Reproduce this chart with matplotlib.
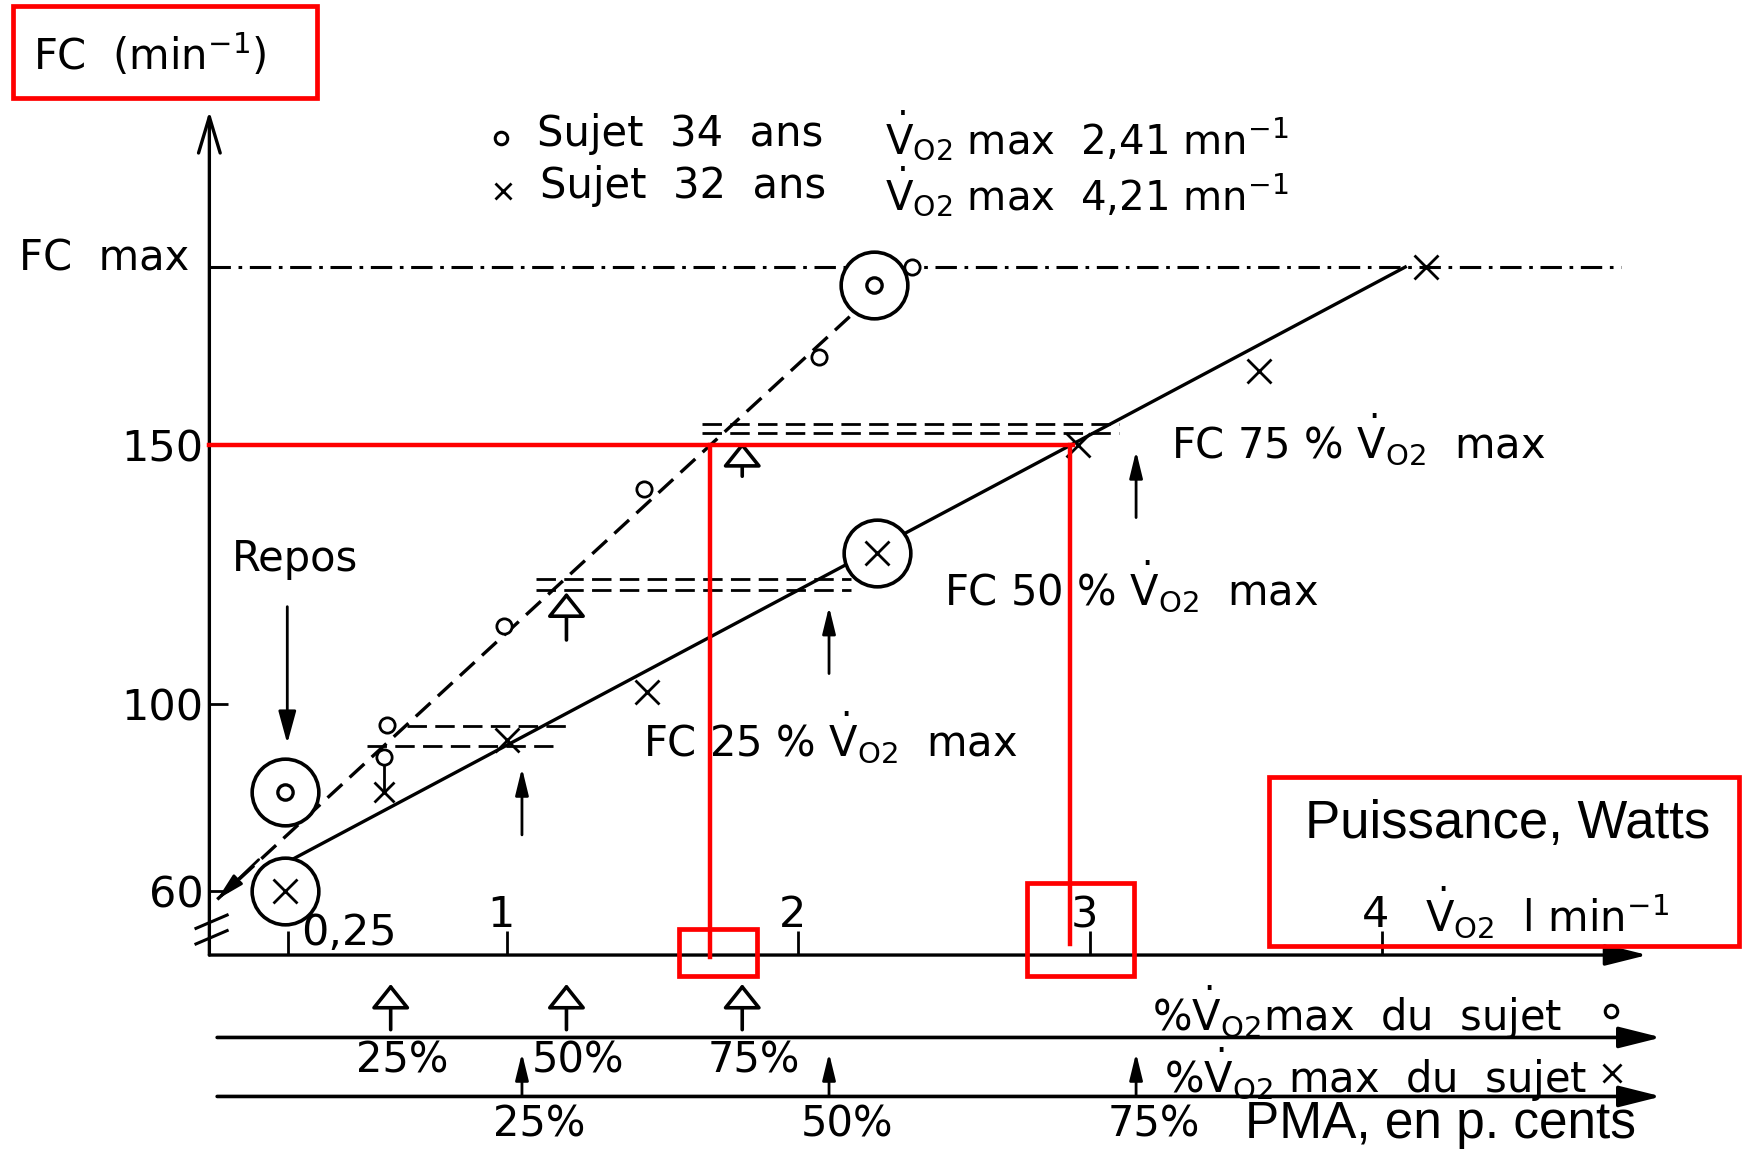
import numpy as np
import matplotlib.pyplot as plt
from matplotlib.patches import Rectangle

# --- valeurs ---
vo2max_o = 2.41   # sujet 34 ans
vo2max_x = 4.21   # sujet 32 ans
fc_max = 184.5

o_vo2 = [0.59, 0.99, 1.47, 2.07, 2.39]
o_fc = [95.5, 115.0, 141.5, 167.0, 184.5]
x_vo2 = [1.00, 1.48, 2.96, 3.58, 4.15]
x_fc = [92.1, 102.2, 150.0, 164.4, 184.5]

# points isolés : repos, max estimé (cerclés), paire o/x à 0,58
rest_vo2 = 0.24
rest_fc_o = 81.0
rest_fc_x = 60.0
circ_o = (2.26, 181.0)
circ_x = (2.27, 129.1)
pair_vo2 = 0.58
pair_fc = [88.6, 81.0]

# droites d'ajustement
line_o_vo2 = [0.008, 2.22]
line_o_fc = [58.1, 177.2]
line_x_vo2 = [0.14, 4.08]
line_x_fc = [62.5, 184.5]

# niveaux FC 25 / 50 / 75 % (double trait tireté)
pct = [0.25, 0.50, 0.75]
pct_labels = ['25%', '50%', '75%']
lvl_fc = [(95.2, 91.0), (124.1, 121.9), (154.1, 152.4)]
lvl_x0 = [(0.66, 0.52), (1.10, 1.10), (1.67, 1.67)]
lvl_x1 = [(1.22, 1.16), (2.18, 2.18), (3.10, 3.10)]
lvl_text = ['FC 25 % ', 'FC 50 % ', 'FC 75 % ']

# flèches dans le graphe (queue, pointe) en FC
arr_x_fc = [(71.9, 86.2), (105.8, 118.75), (136.0, 148.9)]
arr_o_fc = [(112.3, 121.5), (144.0, 150.6)]   # 50 % et 75 % du sujet o

x_ticks = [0.25, 1, 2, 3, 4]
x_ticklabels = ['0,25', '1', '2', '3', '4']
y_ticks = [60, 100, 150]

# --- mise en page (repère de l'image 1568 x 1034) ---
W, H = 1568, 1034
px_per_l = 262.0
px_per_bpm = 4.64
k = 4.2 / 4.64           # échelle comprimée sous 100 (axe interrompu)
y_axis = 46.2
x_axis = -0.019


def fwd(y):
    y = np.asarray(y, dtype=float)
    return np.where(y >= 100, y, 100 - (100 - y) * k)


def inv(t):
    t = np.asarray(t, dtype=float)
    return np.where(t >= 100, t, 100 - (100 - t) / k)


def fr(px, py):
    return (px / W, 1 - py / H)


def fy(py):
    return 1 - py / H


plt.rcParams['font.family'] = ['DejaVu Sans']
plt.rcParams['mathtext.fontset'] = 'dejavusans'

VO2 = r'$\dot{\mathrm{V}}_{\mathrm{O}2}$'
fs = 30
arial = ['Liberation Sans', 'DejaVu Sans']

solid_head = dict(arrowstyle='-|>,head_length=0.9,head_width=0.22',
                  lw=2, color='black', shrinkA=0, shrinkB=0, mutation_scale=18)
hollow_head = dict(arrowstyle='-|>,head_length=0.5,head_width=0.4',
                   lw=2.6, fc='white', ec='black', shrinkA=0, shrinkB=0,
                   mutation_scale=30)

fig = plt.figure(figsize=(17.46, 11.51), dpi=100)
ax = fig.add_axes([0, 0, 1, 1])
ax.set_yscale('function', functions=(fwd, inv))
ax.set_xlim(-193 / px_per_l, (W - 193) / px_per_l)
ax.set_ylim(float(inv(150 - (H - 400) / px_per_bpm)), 150 + 400 / px_per_bpm)

for s in ax.spines.values():
    s.set_visible(False)
ax.spines['left'].set_position(('data', x_axis))
ax.spines['bottom'].set_position(('data', y_axis))
ax.set_xticks(x_ticks)
ax.set_xticklabels([])
ax.set_yticks(y_ticks)
ax.set_yticklabels([str(v) for v in y_ticks], fontsize=fs + 1)
ax.tick_params(axis='x', direction='in', length=17, width=2)
ax.tick_params(axis='y', direction='in', length=14, width=2, pad=4)

# axes avec flèches
ax.annotate('', xy=(4.91, y_axis), xytext=(x_axis, y_axis),
            arrowprops=dict(arrowstyle='-|>,head_length=1.0,head_width=0.25',
                            lw=2.4, color='black', shrinkA=0, shrinkB=0,
                            mutation_scale=26))
ax.annotate('', xy=(x_axis, 214.7), xytext=(x_axis, y_axis),
            arrowprops=dict(arrowstyle='->,head_length=1.0,head_width=0.3',
                            lw=2.4, color='black', shrinkA=0, shrinkB=0,
                            mutation_scale=26))
# interruption de l'axe
for py in (828, 842):
    ax.plot([176 / W, 204 / W], [fy(py + 6), fy(py - 6)], color='black',
            lw=2.2, transform=ax.transAxes)

# FC max
ax.plot([x_axis, 4.82], [fc_max, fc_max], color='black', lw=2.2,
        dashes=(7, 2.5, 1.2, 2.5))
ax.text(*fr(170, 232), 'FC  max', fontsize=fs, ha='right', va='center',
        transform=ax.transAxes)

# droites
ax.plot(line_o_vo2, line_o_fc, color='black', lw=2.4, dashes=(6, 3))
ax.plot(line_x_vo2, line_x_fc, color='black', lw=2.4)
ax.annotate('', xy=(line_o_vo2[0], line_o_fc[0]), xytext=(0.15, 66.6),
            arrowprops=solid_head)

# niveaux FC 25/50/75 %
for i in range(3):
    for j in range(2):
        ax.plot([lvl_x0[i][j], lvl_x1[i][j]], [lvl_fc[i][j], lvl_fc[i][j]],
                color='black', lw=2, dashes=(7, 3))

# points
ax.plot(o_vo2, o_fc, 'o', ms=11, mfc='white', mec='black', mew=2, ls='none', zorder=5)
ax.plot(x_vo2, x_fc, 'x', ms=17, mec='black', mew=2, ls='none', zorder=5)
ax.plot([pair_vo2, pair_vo2], pair_fc, color='black', lw=2, zorder=4)
ax.plot([pair_vo2], [pair_fc[0]], 'o', ms=11, mfc='white', mec='black', mew=2, zorder=5)
ax.plot([pair_vo2], [pair_fc[1]], 'x', ms=15, mec='black', mew=2, zorder=5)

# points cerclés
for (cx, cy), inner in [((rest_vo2, rest_fc_o), 'o'), ((rest_vo2, rest_fc_x), 'x'),
                        (circ_o, 'o'), (circ_x, 'x')]:
    ax.plot([cx], [cy], 'o', ms=48, mfc='white', mec='black', mew=2.6, zorder=6)
    if inner == 'o':
        ax.plot([cx], [cy], 'o', ms=11, mfc='white', mec='black', mew=2.4, zorder=7)
    else:
        ax.plot([cx], [cy], 'x', ms=17, mec='black', mew=2, zorder=7)

# flèches du sujet x (pleines) et du sujet o (creuses)
for p, (t0, t1) in zip(pct, arr_x_fc):
    ax.annotate('', xy=(vo2max_x * p, t1), xytext=(vo2max_x * p, t0),
                arrowprops=solid_head)
for p, (t0, t1) in zip(pct[1:], arr_o_fc):
    ax.annotate('', xy=(vo2max_o * p, t1), xytext=(vo2max_o * p, t0),
                arrowprops=hollow_head)

# repos
ax.text(*fr(208, 502), 'Repos', fontsize=fs, ha='left', va='center',
        transform=ax.transAxes)
ax.annotate('', xy=fr(258, 668), xytext=fr(258, 545), xycoords='axes fraction',
            textcoords='axes fraction',
            arrowprops=dict(solid_head, arrowstyle='-|>,head_length=1.1,head_width=0.3'))

# étiquettes des niveaux
for txt, (px, py) in zip(lvl_text, [(577, 662), (848, 527), (1052, 395)]):
    ax.text(*fr(px, py), txt + VO2 + '  max', fontsize=fs, ha='left',
            va='center', transform=ax.transAxes)

# légende en haut
ax.plot(*fr(450, 124), 'o', ms=9, mfc='white', mec='black', mew=2.2,
        transform=ax.transAxes)
ax.plot(*fr(452, 172), 'x', ms=12, mec='black', mew=2, transform=ax.transAxes)
ax.text(*fr(482, 120), 'Sujet  34  ans', fontsize=fs, ha='left', va='center',
        transform=ax.transAxes)
ax.text(*fr(485, 167), 'Sujet  32  ans', fontsize=fs, ha='left', va='center',
        transform=ax.transAxes)
ax.text(*fr(795, 122), VO2 + r' max  2,41 mn$^{-1}$', fontsize=fs - 1, ha='left',
        va='center', transform=ax.transAxes)
ax.text(*fr(795, 172), VO2 + r' max  4,21 mn$^{-1}$', fontsize=fs - 1, ha='left',
        va='center', transform=ax.transAxes)

# titre axe y
ax.text(*fr(30, 50), r'FC  (min$^{-1}$)', fontsize=fs, ha='left', va='center',
        transform=ax.transAxes)

# étiquettes de l'axe x (au-dessus de l'axe)
xt = ax.get_xaxis_transform()
for v, lab in zip(x_ticks, x_ticklabels):
    if lab == '0,25':
        ax.text(v + 0.045, fy(838), lab, fontsize=fs + 1, ha='left', va='center', transform=xt)
    else:
        ax.text(v - 0.02, fy(822), lab, fontsize=fs + 1, ha='center', va='center', transform=xt)
ax.text(*fr(1280, 820), VO2 + r'  l min$^{-1}$', fontsize=fs, ha='left',
        va='center', transform=ax.transAxes)

# échelles en % sous l'axe
for py in (932, 985):
    ax.annotate('', xy=fr(1492, py), xytext=fr(195, py), xycoords='axes fraction',
                textcoords='axes fraction',
                arrowprops=dict(arrowstyle='-|>,head_length=1.0,head_width=0.25',
                                lw=2.6, color='black', shrinkA=0, shrinkB=0,
                                mutation_scale=26))
for p, lab in zip(pct, pct_labels):
    ax.annotate('', xy=(vo2max_o * p, fy(884)), xytext=(vo2max_o * p, fy(925)),
                xycoords=xt, textcoords=xt, arrowprops=hollow_head)
    ax.text(vo2max_o * p + 0.04, fy(953), lab, fontsize=fs, ha='center',
            va='center', transform=xt)
    ax.annotate('', xy=(vo2max_x * p, fy(946)), xytext=(vo2max_x * p, fy(985)),
                xycoords=xt, textcoords=xt, arrowprops=solid_head)
    ax.text(vo2max_x * p + 0.06, fy(1010), lab, fontsize=fs, ha='center',
            va='center', transform=xt)
ax.text(*fr(1035, 910), '%' + VO2 + 'max  du  sujet', fontsize=fs, ha='left',
        va='center', transform=ax.transAxes)
ax.plot(*fr(1447, 908), 'o', ms=9, mfc='white', mec='black', mew=2.2,
        transform=ax.transAxes)
ax.text(*fr(1045, 966), '%' + VO2 + ' max  du  sujet', fontsize=fs, ha='left',
        va='center', transform=ax.transAxes)
ax.plot(*fr(1448, 964), 'x', ms=13, mec='black', mew=2, transform=ax.transAxes)

# --- annotations rouges ---
red = '#ff0000'
o_t = fwd(line_o_fc)
x_t = fwd(line_x_fc)
x150_o = np.interp(150, o_t, line_o_vo2)
x150_x = np.interp(150, x_t, line_x_vo2)
ax.plot([x_axis, x150_x + 0.01], [150, 150], color=red, lw=3.2, zorder=8)
ax.plot([x150_o, x150_o], [150, 45.7], color=red, lw=3.2, zorder=8)
ax.plot([x150_x, x150_x], [150, 48.6], color=red, lw=3.2, zorder=8)

for x0, y0, x1, y1 in [(12, 5, 285, 88), (1140, 698, 1562, 850),
                       (610, 835, 680, 877), (922, 793, 1018, 877)]:
    ax.add_patch(Rectangle(fr(x0, y1), (x1 - x0) / W, (y1 - y0) / H, fill=False,
                           ec=red, lw=3.4, transform=ax.transAxes, zorder=9))
ax.text(*fr(1172, 740), 'Puissance, Watts', fontsize=38, ha='left', va='center',
        family=arial, transform=ax.transAxes, zorder=10)
ax.text(*fr(1118, 1010), 'PMA, en p. cents', fontsize=37, ha='left', va='center',
        family=arial, transform=ax.transAxes, zorder=10)

fig.savefig('out.png', dpi=100, facecolor='white')
